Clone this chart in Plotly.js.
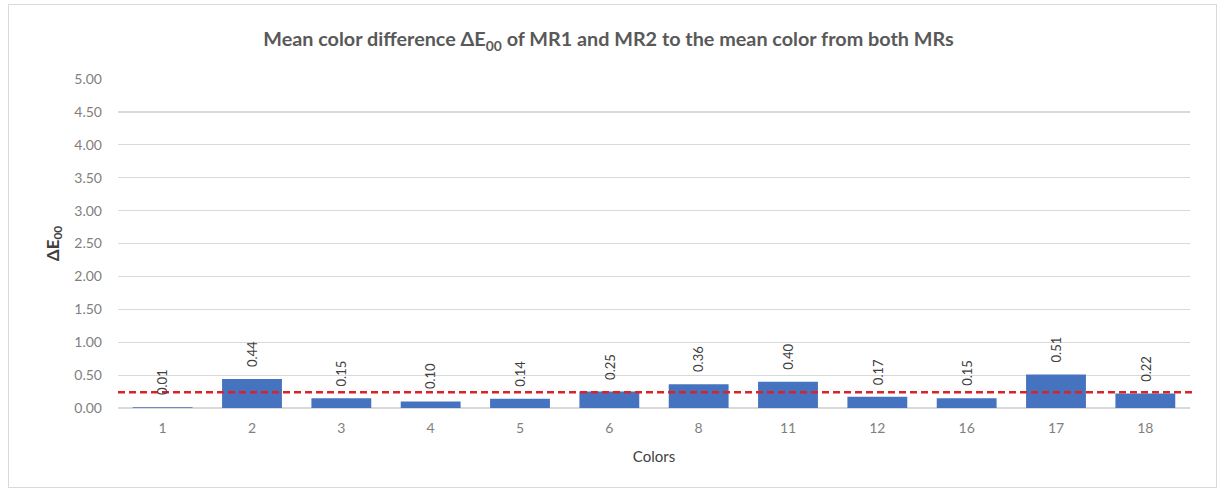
<!DOCTYPE html>
<html>
<head>
<meta charset="utf-8">
<script src="https://cdn.plot.ly/plotly-3.0.1.min.js"></script>
<style>
  html, body { margin: 0; padding: 0; background: #ffffff; }
  #frame { position: absolute; left: 8px; top: 4px; width: 1209px; height: 484px; border: 1px solid #d9d9d9; box-sizing: border-box; }
  #chart { position: absolute; left: 0; top: 0; width: 1217px; height: 493px; }
</style>
</head>
<body>
<div id="frame"></div>
<div id="chart"></div>
<script>
const categories = ["1", "2", "3", "4", "5", "6", "8", "11", "12", "16", "17", "18"];
const deltaE = [0.01, 0.44, 0.15, 0.10, 0.14, 0.25, 0.36, 0.40, 0.17, 0.15, 0.51, 0.22];
const meanLine = 0.24;
const yTicks = [0, 0.5, 1, 1.5, 2, 2.5, 3, 3.5, 4, 4.5, 5];

const FONT = 'Lato, "Open Sans", sans-serif';

const trace = {
  type: 'bar',
  x: categories,
  y: deltaE,
  marker: { color: '#4673bf' },
  hoverinfo: 'x+y'
};

// data labels placed by category index on the category axis
const labels = categories.map((c, i) => ({
  x: i,
  y: deltaE[i],
  xref: 'x', yref: 'y',
  text: deltaE[i].toFixed(2),
  textangle: -90,
  showarrow: false,
  xanchor: 'center',
  yanchor: 'bottom',
  yshift: 10,
  font: { family: FONT, size: 13, color: '#404040' }
}));

const layout = {
  width: 1217,
  height: 493,
  margin: { l: 118, r: 27, t: 79, b: 85 },
  paper_bgcolor: 'rgba(0,0,0,0)',
  plot_bgcolor: 'rgba(0,0,0,0)',
  showlegend: false,
  bargap: 0.33,
  title: {
    text: 'Mean color difference ΔE<sub>00</sub> of MR1 and MR2 to the mean color from both MRs',
    font: { family: FONT, size: 19.8, color: '#595959', weight: 'bold' },
    x: 0.5, xanchor: 'center', y: 0.92, yanchor: 'middle'
  },
  xaxis: {
    type: 'category',
    categoryorder: 'array',
    categoryarray: categories,
    range: [-0.5, categories.length - 0.5],
    tickfont: { family: FONT, size: 14, color: '#7f7f7f' },
    showgrid: false,
    showline: false,
    ticks: '',
    ticklabelstandoff: 10,
    title: { text: 'Colors', font: { family: FONT, size: 15, color: '#404040' }, standoff: 16 }
  },
  yaxis: {
    range: [0, 5],
    tickvals: yTicks,
    tickformat: '.2f',
    tickfont: { family: FONT, size: 14, color: '#7f7f7f' },
    showgrid: true,
    gridcolor: '#d9d9d9',
    gridwidth: 1.2,
    zeroline: true,
    zerolinecolor: '#d9d9d9',
    zerolinewidth: 1.2,
    showline: false,
    ticks: '',
    ticklabelstandoff: 15,
    title: { text: 'ΔE<sub>00</sub>', font: { family: FONT, size: 17, color: '#404040', weight: 'bold' }, standoff: 10 }
  },
  annotations: labels,
  shapes: [{
    type: 'line',
    xref: 'paper', yref: 'y',
    x0: 0, x1: 1.005,
    y0: meanLine, y1: meanLine,
    line: { color: '#dc2229', width: 2.5, dash: '7px,4px' },
    layer: 'above'
  }]
};

Plotly.newPlot('chart', [trace], layout, { displayModeBar: false, staticPlot: true });
</script>
</body>
</html>
